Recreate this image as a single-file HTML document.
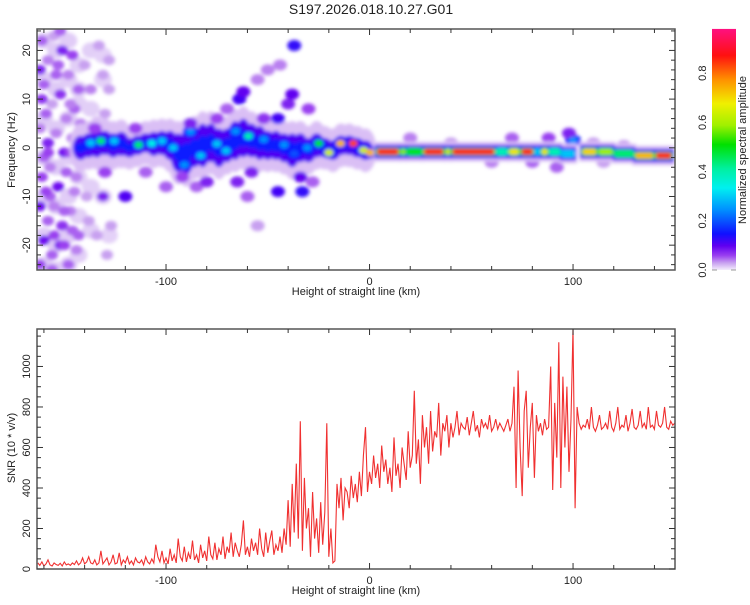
<!DOCTYPE html>
<html><head><meta charset="utf-8"><style>
body{margin:0;background:#fff}
svg text{font-family:"Liberation Sans",sans-serif;fill:#222}
</style></head><body>
<svg id="c" width="750" height="600" xmlns="http://www.w3.org/2000/svg">
<defs>
<filter id="blur" x="-20%" y="-20%" width="140%" height="140%"><feGaussianBlur stdDeviation="1.8"/></filter>
<clipPath id="clipTop"><rect x="37" y="29" width="638" height="241"/></clipPath>
<clipPath id="clipBot"><rect x="37" y="329" width="638" height="240"/></clipPath>
<linearGradient id="cbg" x1="0" y1="1" x2="0" y2="0">
<stop offset="0" stop-color="#f4eefc"/><stop offset="0.03" stop-color="#c8a0f0"/><stop offset="0.06" stop-color="#9a40f0"/>
<stop offset="0.1" stop-color="#6000f0"/><stop offset="0.15" stop-color="#1010ff"/><stop offset="0.25" stop-color="#0090ff"/>
<stop offset="0.34" stop-color="#00f0f0"/><stop offset="0.42" stop-color="#00f0a0"/><stop offset="0.52" stop-color="#00e000"/>
<stop offset="0.6" stop-color="#a0f000"/><stop offset="0.69" stop-color="#f0f000"/><stop offset="0.79" stop-color="#ff9000"/>
<stop offset="0.89" stop-color="#ff1010"/><stop offset="1" stop-color="#ff1080"/>
</linearGradient>
</defs>
<text x="371" y="14" font-size="14" text-anchor="middle">S197.2026.018.10.27.G01</text>
<g id="topPanel"></g>
<g id="botPanel"></g>
<g id="cbPanel"></g>
</svg>
<script>
// ---- spectrogram data ----
const hazeX=[-160,-160,-160,-160,-160,-160,-160,-154,-154,-154,-154,-154,-154,-154,-148,-148,-148,-148,-148,-148,-148,-143,-143,-143,-143,-143,-143,-137,-137,-137,-137,-131,-131,-131,-128,-128];
const hazeF=[22,14,6,-2,-10,-18,-24,20,12,4,-4,-12,-20,-25,22,14,6,-2,-10,-18,-24,17,9,-6,-14,-22,12,20,8,-8,-17,19,14,-10,-18,3];
const hazeA=[.014,.014,.014,.014,.014,.014,.014,.014,.014,.014,.014,.014,.014,.014,.013,.013,.013,.013,.013,.013,.013,.012,.012,.012,.012,.012,.012,.012,.012,.012,.012,.011,.011,.011,.011,.011];
const noiseX=[-161,-158,-155,-151,-148,-160,-156,-152,-149,-145,-162,-158,-154,-150,-146,-161,-157,-153,-149,-145,-162,-158,-155,-151,-147,-160,-156,-152,-148,-144,-162,-140,-137,-133,-130,-128,-141,-138,-134,-131,-129,-127,-143,-146,-154,-159,-143,-147,-157,-150,-139,-136,-128,-131,-160,-155,-146,-142,-162,-159,-152,-147,-156,-161,-150,-144,-153,-158];
const noiseF=[22,18,23,20,15,13,9,11,6,8,4,1,3,-1,2,-6,-4,-8,-5,-9,-12,-15,-12,-16,-13,-19,-22,-20,-24,-21,-24,17,12,21,7,18,-3,-15,-18,-10,-22,-16,-18,19,15,7,12,-1,-10,-20,-10,3,12,15,-2,-18,-17,5,16,-9,24,9,-25,10,-13,-6,17,-1];
const noiseA=[.05,.04,.03,.08,.04,.05,.03,.07,.04,.05,.04,.08,.04,.09,.04,.06,.04,.09,.05,.04,.09,.05,.04,.07,.04,.09,.05,.08,.05,.04,.06,.03,.04,.03,.03,.03,.04,.03,.03,.08,.03,.03,.05,.06,.05,.05,.05,.06,.05,.06,.03,.03,.03,.03,.05,.06,.05,.04,.08,.06,.05,.04,.05,.07,.05,.04,.05,.06];
const ridgeX=[-142,-138,-134,-130,-126,-122,-118,-114,-110,-106,-102,-98,-94,-90,-86,-82,-78,-74,-70,-66,-62,-58,-54,-50,-46,-42,-38,-34,-30,-26,-22,-18,-14,-10,-6,-2];
const ridgeF=[0,0.5,1,1,0.5,0.8,0,0.5,1,0.8,1,0.5,-1,-1,0,0.5,1,0,0.5,1.5,2,1.5,1,0.5,0.5,0,-0.5,0,-0.5,0.5,0,-0.5,0.5,0.5,0,-0.5];
const ridgeW=[2.5,2.5,3,2.5,2.5,2.5,2,2,2,2.5,2.5,3,4,4.5,4,4.5,4,4,3.5,4,4,3.5,3.5,3,3,3,3.5,3,2.5,2.5,2,2,2,2,2,2];
const blobX=[-64,-62,-37,-33,-34,-45,-45,-40,-38,-120,-100,-92,-60,-55,-50,-44,-70,-75,-85,-55,-30,-28,-65,-110,-115,-130,-135,-88,-80,-52,-58,20,40,60,70,80,88,92,98,110,125,115,
 -137,-132,-125.5,-113.5,-107,-102,-96.5,-91,-88,-83,-75,-70.5,-65.8,-59.5,-52,-42,-37,-30.6,-25,-20,-14.3,-8,-3,0.3,100];
const blobF=[10,11.5,21,-9,-6,-9,6,9,11,-10,-8,-6,-10,14,16,17,8,6,-8,-16,8,-7,-7,-5,4,-5,4,5,-7,6,-5,2,1,-3,2,-3,2,-4,3,1,0.5,-3,
 1,1.4,1.4,0.6,0.9,1.4,0,-3.5,3.3,-1.6,0.8,-0.6,3.4,2.4,1.7,0.6,-1.2,0,0.9,-1,0.9,0.9,-0.5,-1,1.5];
const blobA=[.12,.1,.13,.13,.1,.12,.12,.08,.1,.11,.05,.06,.05,.04,.04,.04,.05,.06,.05,.03,.06,.05,.08,.05,.06,.06,.06,.08,.08,.07,.08,.04,.03,.04,.05,.05,.06,.05,.08,.03,.03,.03,
 .3,.45,.3,.45,.35,.3,.3,.25,.25,.3,.3,.3,.25,.4,.25,.25,.2,.25,.5,.65,.75,.85,.65,.75,.25];
const bandX0=[3,15,18,26,37,40,62,68,74,81,84,88,94,104,112,120,130,140];
const bandX1=[15,18,26,37,40,62,68,74,81,84,88,94,101,112,120,130,140,149];
const bandF=[-0.8,-0.8,-0.8,-0.8,-0.8,-0.8,-0.8,-0.8,-0.8,-0.8,-0.8,-0.8,-1.2,-0.8,-0.8,-1.2,-1.6,-1.6];
const bandA=[.9,.6,.5,.9,.7,.9,.4,.7,.9,.3,.7,.4,.3,.72,.6,.45,.75,.9];
// ---- SNR data (km -163..150, step 1) ----
const snrStart=-163;
const snr=[30,18,35,15,25,45,20,15,30,22,18,28,15,35,20,25,18,30,22,40,20,30,55,25,35,60,30,25,45,20,30,90,25,40,55,20,35,70,25,30,80,20,45,30,60,25,40,20,55,35,30,45,20,60,35,25,50,30,120,60,35,90,30,55,25,100,40,70,30,150,60,40,110,35,80,50,140,45,70,30,120,55,90,40,160,70,50,130,45,100,70,160,50,110,80,180,60,130,90,60,120,240,70,110,60,150,90,130,70,200,100,60,180,80,140,190,70,120,90,160,80,200,120,340,110,420,180,520,150,730,90,450,200,300,60,380,150,250,80,330,120,280,720,60,200,30,40,420,300,450,240,400,380,300,460,350,420,330,480,360,560,700,380,480,420,560,450,520,400,610,480,540,420,500,380,650,460,520,400,600,520,440,680,500,560,880,520,640,420,760,600,700,520,780,580,680,650,820,560,720,680,760,600,720,650,700,780,660,720,700,690,750,660,720,780,680,710,650,740,700,720,690,760,680,700,740,690,720,700,680,710,740,680,720,900,400,980,600,360,780,880,500,700,820,450,760,680,720,660,740,690,700,1000,390,820,550,1120,400,950,600,900,480,740,1185,300,800,720,690,710,700,740,690,800,700,680,710,760,690,700,720,690,780,700,680,720,800,690,710,700,760,680,720,790,700,690,710,780,700,720,690,800,700,710,690,780,710,700,720,800,700,690,730,710,720];
const xTicks=[-100,0,100];
const fTicks=[20,10,0,-10,-20];
const snrTicks=[0,200,400,600,800,1000];
const cbTicks=[0,0.2,0.4,0.6,0.8];

const NS='http://www.w3.org/2000/svg';
const X0=37,X1=675,KM0=-163.4,KM1=150.1;
const xs=k=>X0+(k-KM0)*(X1-X0)/(KM1-KM0);
const TY0=29,TY1=270,F1=24.4,F0=-25.1;
const PXHZ=(TY1-TY0)/(F1-F0);
const fy=f=>TY0+(F1-f)*PXHZ;
const BY0=329,BY1=569,S1=1185;
const sy=v=>BY1-v*(BY1-BY0)/S1;
const stops=[[0,[244,238,252]],[.03,[200,160,240]],[.06,[154,64,240]],[.1,[96,0,240]],[.15,[16,16,255]],[.25,[0,144,255]],[.34,[0,240,240]],[.42,[0,240,160]],[.52,[0,224,0]],[.6,[160,240,0]],[.69,[240,240,0]],[.79,[255,144,0]],[.89,[255,16,16]],[1,[255,16,128]]];
function cmap(a){for(let i=1;i<stops.length;i++){if(a<=stops[i][0]){const[p,c0]=stops[i-1],[q,c1]=stops[i];const t=(a-p)/(q-p);return 'rgb('+c0.map((v,j)=>Math.round(v+(c1[j]-v)*t)).join(',')+')';}}return 'rgb(255,16,128)';}
function mk(tag,attrs,parent){const e=document.createElementNS(NS,tag);for(const k in attrs)e.setAttribute(k,attrs[k]);parent.appendChild(e);return e;}

const topG=document.getElementById('topPanel');
const heat=mk('g',{'clip-path':'url(#clipTop)',filter:'url(#blur)'},topG);


for(let i=0;i<hazeX.length;i++){
  const e=mk('ellipse',{cx:xs(hazeX[i]),cy:fy(hazeF[i]),rx:9,ry:8,fill:cmap(hazeA[i])},heat);
  
  
}
for(let i=0;i<noiseX.length;i++){
  const e=mk('ellipse',{cx:xs(noiseX[i]),cy:fy(noiseF[i]),rx:6,ry:5,fill:cmap(noiseA[i])},heat);
  
  
}
for(let i=0;i<ridgeX.length;i++){
  mk('ellipse',{cx:xs(ridgeX[i]),cy:fy(ridgeF[i]),rx:11,ry:(ridgeW[i]+2.5)*PXHZ,fill:cmap(0.018)},heat);
}
for(let i=0;i<ridgeX.length;i++){
  mk('ellipse',{cx:xs(ridgeX[i]),cy:fy(ridgeF[i]),rx:8,ry:ridgeW[i]*PXHZ,fill:cmap(0.11)},heat);
}
for(let i=0;i<ridgeX.length;i++){
  const e=mk('ellipse',{cx:xs(ridgeX[i]),cy:fy(ridgeF[i]),rx:6,ry:ridgeW[i]*0.45*PXHZ,fill:cmap(0.16)},heat);
  
  
}
for(let i=0;i<blobX.length;i++){
  if(blobA[i]>=0.15){mk('ellipse',{cx:xs(blobX[i]),cy:fy(blobF[i]),rx:8,ry:6,fill:cmap(0.15)},heat);}
}
for(let i=0;i<blobX.length;i++){
  const a=blobA[i];
  const e=mk('ellipse',{cx:xs(blobX[i]),cy:fy(blobF[i]),rx:a>=0.15?4.5:7,ry:a>=0.15?3.5:5.5,fill:cmap(a)},heat);
  
  
}
for(let i=0;i<bandX0.length;i++){
  mk('rect',{x:xs(bandX0[i])-2,y:fy(bandF[i])-10,width:xs(bandX1[i])-xs(bandX0[i])+4,height:20,fill:cmap(0.015)},heat);
}
for(let i=0;i<bandX0.length;i++){
  mk('rect',{x:xs(bandX0[i])-1,y:fy(bandF[i])-7,width:xs(bandX1[i])-xs(bandX0[i])+2,height:14,fill:cmap(0.08)},heat);
}
for(let i=0;i<bandX0.length;i++){
  mk('rect',{x:xs(bandX0[i])-1,y:fy(bandF[i])-5.5,width:xs(bandX1[i])-xs(bandX0[i])+2,height:11,fill:cmap(0.16)},heat);
}
for(let i=0;i<bandX0.length;i++){
  const e=mk('rect',{x:xs(bandX0[i]),y:fy(bandF[i])-4,width:xs(bandX1[i])-xs(bandX0[i]),height:8,fill:cmap(Math.min(bandA[i],0.5)),rx:3},heat);
  
  
  if(bandA[i]>0.5){mk('rect',{x:xs(bandX0[i])+1.5,y:fy(bandF[i])-3,width:xs(bandX1[i])-xs(bandX0[i])-3,height:6,fill:cmap(bandA[i]),rx:2},heat);}
}

function frame(g,y0,y1){
  const r=mk('rect',{x:X0,y:y0,width:X1-X0,height:y1-y0,fill:'none',stroke:'#555','stroke-width':1.5},g);
  
  
  for(let k=-160;k<=140;k+=20){
    const x=xs(k),L=(k%100===0)?6:4;
    mk('line',{x1:x,x2:x,y1:y0,y2:y0+L,stroke:'#333','stroke-width':1},g);
    mk('line',{x1:x,x2:x,y1:y1,y2:y1-L,stroke:'#333','stroke-width':1},g);
  }
  for(const k of xTicks){
    const t=mk('text',{x:xs(k),y:y1+15,'font-size':11,'text-anchor':'middle'},g);t.textContent=k;
    
    
  }
  const t=mk('text',{x:356,y:y1+25,'font-size':11,'text-anchor':'middle'},g);t.textContent='Height of straight line (km)';
  
  
}
frame(topG,TY0,TY1);
for(let f=-24;f<=24;f+=2){const y=fy(f),L=(f%10===0)?6:4;
  mk('line',{x1:X0,x2:X0+L,y1:y,y2:y,stroke:'#333'},topG);mk('line',{x1:X1,x2:X1-L,y1:y,y2:y,stroke:'#333'},topG);}
for(const f of fTicks){const t=mk('text',{x:0,y:0,'font-size':11,'text-anchor':'middle',transform:`translate(30,${fy(f)}) rotate(-90)`},topG);t.textContent=f;
  
  }
{const t=mk('text',{x:0,y:0,'font-size':11,'text-anchor':'middle',transform:'translate(15,150) rotate(-90)'},topG);t.textContent='Frequency (Hz)';
 
 }

const botG=document.getElementById('botPanel');
let d='';
for(let i=0;i<snr.length;i++){d+=(i?'L':'M')+xs(snrStart+i).toFixed(1)+','+sy(snr[i]).toFixed(1);}
const line=mk('path',{d:d,fill:'none',stroke:'#f03030','stroke-width':1.1,'clip-path':'url(#clipBot)'},botG);


frame(botG,BY0,BY1);
for(let v=0;v<=1150;v+=50){const y=sy(v),L=(v%200===0)?6:4;
  mk('line',{x1:X0,x2:X0+L,y1:y,y2:y,stroke:'#333'},botG);mk('line',{x1:X1,x2:X1-L,y1:y,y2:y,stroke:'#333'},botG);}
for(const v of snrTicks){const t=mk('text',{x:0,y:0,'font-size':11,'text-anchor':'middle',transform:`translate(30,${sy(v)}) rotate(-90)`},botG);t.textContent=v;
  
  }
{const t=mk('text',{x:0,y:0,'font-size':11,'text-anchor':'middle',transform:'translate(15,448) rotate(-90)'},botG);t.textContent='SNR (10 * v/v)';
 
 }

const cbG=document.getElementById('cbPanel');
const CB0=270,CBs=246;
mk('rect',{x:712,y:CB0-0.98*CBs,width:24,height:0.98*CBs,fill:'url(#cbg)'},cbG);
for(const v of cbTicks){const t=mk('text',{x:0,y:0,'font-size':11,'text-anchor':'middle',transform:`translate(706,${CB0-v*CBs}) rotate(-90)`},cbG);t.textContent=v.toFixed(1);
  
  }
mk('line',{x1:712,x2:717,y1:CB0,y2:CB0,stroke:'#999'},cbG);mk('line',{x1:731,x2:736,y1:CB0,y2:CB0,stroke:'#999'},cbG);
{const t=mk('text',{x:0,y:0,'font-size':11,'text-anchor':'middle',transform:'translate(746,150) rotate(-90)'},cbG);t.textContent='Normalized spectral amplitude';
 
 }
</script>
</body></html>
